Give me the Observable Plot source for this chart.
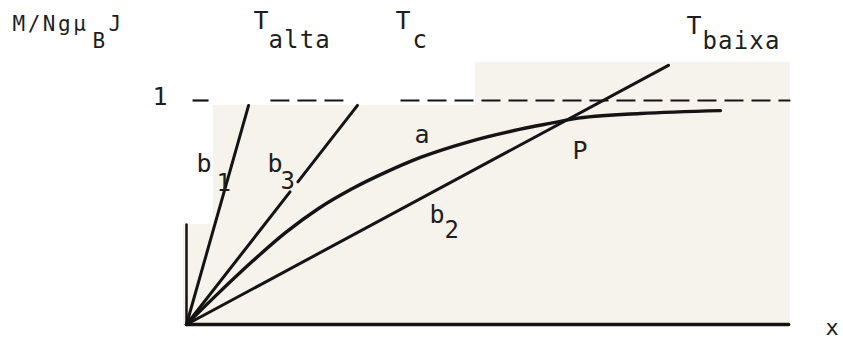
<!DOCTYPE html>
<html>
<head>
<meta charset="utf-8">
<script src="https://cdn.jsdelivr.net/npm/d3@7"></script>
<script src="https://cdn.jsdelivr.net/npm/@observablehq/plot@0.6"></script>
<style>
  html, body { margin: 0; padding: 0; background: #fff; }
</style>
</head>
<body>
<div id="chart"></div>
<script>
// Graphical solution of the Weiss mean-field equation:
// magnetization curve "a" (Brillouin function) against the straight lines
// b1 (high T), b3 (T = Tc, tangent at the origin) and b2 (low T), meeting a at P.

// Brillouin-type curve a
const aX = [0, 0.142, 0.293, 0.44, 0.587, 0.738, 0.884, 1.04, 1.262, 1.484, 1.627, 1.72, 2.018, 2.373];
const aY = [0, 0.140, 0.282, 0.410, 0.518, 0.607, 0.679, 0.746, 0.818, 0.872, 0.900, 0.918, 0.942, 0.955];

// Straight lines through the origin (endpoints)
const b1X = [0, 0.276];        const b1Y = [0, 0.978];       // T alta
const b3LowX = [0, 0.46];      const b3LowY = [0, 0.592];    // T = Tc (below its label)
const b3UpX = [0.495, 0.76];   const b3UpY = [0.637, 0.978]; // T = Tc (above its label)
const b2X = [0, 2.142];        const b2Y = [0, 1.157];       // T baixa

// Saturation level M/NgμBJ = 1 (dashed), drawn in pieces
const satStart = [0.027, 0.373, 0.951];
const satEnd   = [0.098, 0.71, 2.684];
const satLevel = 1;

// Axes
const xAxisEnd = 2.676;
const yStubTop = 0.446;

// Paper patches behind the drawing
const patchX1 = [0.12, -0.013, 1.284];
const patchX2 = [2.684, 0.12, 2.684];
const patchY1 = [-0.009, -0.009, 0.978];
const patchY2 = [0.978, 0.446, 1.17];

const pts = (xs, ys) => xs.map((x, i) => ({x, y: ys[i]}));

// Text annotations (x = left edge, y = baseline)
const bigLabels = [
  {t: "T", x: 0.298, y: 1.3214},
  {t: "T", x: 0.929, y: 1.3214},
  {t: "T", x: 2.222, y: 1.299},
  {t: "1", x: -0.151, y: 0.978},
  {t: "b", x: 0.044, y: 0.679},
  {t: "b", x: 0.36, y: 0.679},
  {t: "a", x: 1.013, y: 0.8125},
  {t: "b", x: 1.08, y: 0.451},
  {t: "P", x: 1.716, y: 0.741}
];
const axisName = [{t: "x", x: 2.84, y: -0.045}];
const subLabels = [
  {t: "alta", x: 0.364, y: 1.2366},
  {t: "c", x: 1.004, y: 1.2366},
  {t: "baixa", x: 2.293, y: 1.232},
  {t: "1", x: 0.133, y: 0.598},
  {t: "3", x: 0.418, y: 0.603},
  {t: "2", x: 1.147, y: 0.384}
];
const yTitle = [
  {t: "M/Ngμ", x: -0.773, y: 1.3125},
  {t: "J", x: -0.347, y: 1.3125}
];
const yTitleSub = [{t: "B", x: -0.418, y: 1.2366}];

const ink = "#141414";
const textInk = "#1e1e1e";
const font = "DejaVu Sans Mono";

const chart = Plot.plot({
  width: 843,
  height: 342,
  margin: 0,
  x: {domain: [0, 1], range: [186, 411], axis: null},
  y: {domain: [0, 1], range: [324, 100], axis: null},
  style: {background: "#fff", fontFamily: font},
  marks: [
    Plot.rect(patchX1.map((x1, i) => ({x1, x2: patchX2[i], y1: patchY1[i], y2: patchY2[i]})),
      {x1: "x1", x2: "x2", y1: "y1", y2: "y2", fill: "#f6f3ec"}),
    Plot.link(satStart.map((s, i) => ({s, e: satEnd[i]})),
      {x1: "s", x2: "e", y1: () => satLevel, y2: () => satLevel,
       stroke: ink, strokeWidth: 2.2, strokeDasharray: "19 8"}),
    Plot.line(pts([0, xAxisEnd], [0, 0]), {x: "x", y: "y", stroke: ink, strokeWidth: 3.5}),
    Plot.line(pts([0, 0], [0, yStubTop]), {x: "x", y: "y", stroke: ink, strokeWidth: 2.5}),
    Plot.line(pts(b1X, b1Y), {x: "x", y: "y", stroke: ink, strokeWidth: 3}),
    Plot.line(pts(b3LowX, b3LowY), {x: "x", y: "y", stroke: ink, strokeWidth: 3}),
    Plot.line(pts(b3UpX, b3UpY), {x: "x", y: "y", stroke: ink, strokeWidth: 3}),
    Plot.line(pts(b2X, b2Y), {x: "x", y: "y", stroke: ink, strokeWidth: 3}),
    Plot.line(pts(aX, aY), {x: "x", y: "y", stroke: ink, strokeWidth: 3.4, curve: "monotone-x"}),
    Plot.text(bigLabels, {x: "x", y: "y", text: "t", textAnchor: "start", lineAnchor: "bottom",
      fontSize: 25, fill: textInk}),
    Plot.text(axisName, {x: "x", y: "y", text: "t", textAnchor: "start", lineAnchor: "bottom",
      fontSize: 22, fill: textInk}),
    Plot.text(subLabels, {x: "x", y: "y", text: "t", textAnchor: "start", lineAnchor: "bottom",
      fontSize: 24, fill: textInk}),
    Plot.text(yTitle, {x: "x", y: "y", text: "t", textAnchor: "start", lineAnchor: "bottom",
      fontSize: 21, fill: textInk}),
    Plot.text(yTitleSub, {x: "x", y: "y", text: "t", textAnchor: "start", lineAnchor: "bottom",
      fontSize: 21, fill: textInk})
  ]
});

// Typewriter-like spacing for the wider lettering
const spacing = {"M/Ngμ": "2.5px", "alta": "1.2px", "baixa": "1.2px"};
d3.select(chart).selectAll("text").each(function () {
  const s = spacing[this.textContent];
  if (s) this.style.letterSpacing = s;
});

document.getElementById("chart").appendChild(chart);
</script>
</body>
</html>
